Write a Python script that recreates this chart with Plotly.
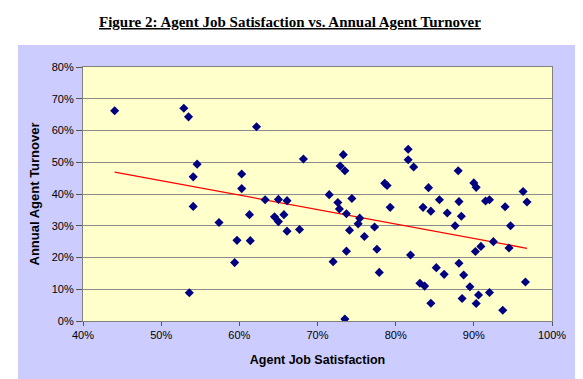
import plotly.graph_objects as go

# Agent job satisfaction (fraction) vs annual agent turnover (fraction)
satisfaction = [
    0.4405, 0.529, 0.535, 0.546, 0.541, 0.603, 0.603, 0.541, 0.574, 0.597,
    0.594, 0.536, 0.622, 0.682, 0.733, 0.729, 0.735, 0.786, 0.789, 0.816,
    0.816, 0.823, 0.715, 0.633, 0.650, 0.661, 0.744, 0.726, 0.728, 0.613,
    0.645, 0.657, 0.650, 0.737, 0.793, 0.754, 0.752, 0.773, 0.661, 0.677,
    0.741, 0.760, 0.614, 0.737, 0.776, 0.819, 0.720, 0.779, 0.735, 0.880,
    0.842, 0.900, 0.903, 0.963, 0.856, 0.881, 0.915, 0.920, 0.968, 0.835,
    0.845, 0.940, 0.866, 0.884, 0.876, 0.947, 0.925, 0.909, 0.945, 0.902,
    0.881, 0.852, 0.862, 0.887, 0.831, 0.837, 0.895, 0.966, 0.920, 0.906,
    0.885, 0.845, 0.903, 0.937,
]
turnover = [
    0.662, 0.670, 0.643, 0.494, 0.454, 0.463, 0.417, 0.361, 0.310, 0.254,
    0.184, 0.089, 0.612, 0.510, 0.524, 0.488, 0.473, 0.434, 0.427, 0.541,
    0.508, 0.485, 0.398, 0.382, 0.383, 0.379, 0.386, 0.373, 0.353, 0.335,
    0.328, 0.335, 0.313, 0.338, 0.358, 0.324, 0.306, 0.296, 0.283, 0.288,
    0.286, 0.266, 0.253, 0.220, 0.226, 0.208, 0.187, 0.153, 0.006, 0.473,
    0.420, 0.435, 0.421, 0.408, 0.382, 0.376, 0.378, 0.382, 0.375, 0.358,
    0.346, 0.360, 0.340, 0.330, 0.300, 0.300, 0.250, 0.235, 0.230, 0.219,
    0.182, 0.168, 0.147, 0.145, 0.119, 0.110, 0.108, 0.123, 0.090, 0.082,
    0.071, 0.056, 0.055, 0.034,
]

# Linear trend line endpoints
trend_x = [0.4405, 0.968]
trend_y = [0.469, 0.229]

title_text = "Figure 2: Agent Job Satisfaction vs. Annual Agent Turnover"
x_title = "Agent Job Satisfaction"
y_title = "Annual Agent Turnover"

fig = go.Figure()
fig.add_trace(go.Scatter(
    x=trend_x, y=trend_y, mode="lines",
    line=dict(color="#FF0000", width=1.3), hoverinfo="skip",
))
fig.add_trace(go.Scatter(
    x=satisfaction, y=turnover, mode="markers",
    marker=dict(symbol="diamond", size=7, color="#000080",
                line=dict(width=0)),
))

W, H = 583, 379
L, R, T, B = 75, 544, 59, 313
pw, ph = R - L, B - T


def px_x(x):
    return (x - L) / pw


def px_y(y):
    return (B - y) / ph


# white page margins around the purple chart area (paper is purple)
white = dict(fillcolor="#FFFFFF", line=dict(width=0), layer="below")
fig.add_shape(type="rect", xref="paper", yref="paper",
              x0=px_x(-5), x1=px_x(W + 5), y0=px_y(37), y1=px_y(-5), **white)
fig.add_shape(type="rect", xref="paper", yref="paper",
              x0=px_x(-5), x1=px_x(W + 5), y0=px_y(H + 5), y1=px_y(373), **white)
fig.add_shape(type="rect", xref="paper", yref="paper",
              x0=px_x(-5), x1=px_x(10), y0=px_y(H + 5), y1=px_y(-5), **white)
fig.add_shape(type="rect", xref="paper", yref="paper",
              x0=px_x(576), x1=px_x(W + 5), y0=px_y(H + 5), y1=px_y(-5), **white)

fig.add_annotation(text="<b><u>" + title_text + "</u></b>", xref="paper", yref="paper",
                   x=px_x(282), y=px_y(14), showarrow=False,
                   font=dict(family="Liberation Serif", size=15, color="#000000"),
                   xanchor="center", yanchor="middle")

fig.update_layout(
    width=W, height=H,
    margin=dict(l=L, r=W - R, t=T, b=H - B, pad=0),
    paper_bgcolor="#CCCCFF",
    plot_bgcolor="#FFFFCC",
    showlegend=False,
    font=dict(family="Liberation Sans", size=11, color="#000000"),
)
fig.update_xaxes(
    range=[0.4, 1.0], dtick=0.1, tick0=0.4, tickformat=".0%",
    showgrid=False, zeroline=False,
    showline=True, linecolor="#808080", linewidth=1.2, mirror=True,
    ticks="outside", ticklen=4, tickcolor="#555555",
    title=dict(text="<b>" + x_title + "</b>", font=dict(size=12.5), standoff=14),
)
fig.update_yaxes(
    range=[0, 0.8], dtick=0.1, tick0=0, tickformat=".0%",
    showgrid=True, gridcolor="#8C8C8C", gridwidth=1, zeroline=False,
    showline=True, linecolor="#808080", linewidth=1.2, mirror=True,
    ticks="outside", ticklen=6, tickcolor="#555555",
    title=dict(text="<b>" + y_title + "</b>", font=dict(size=13), standoff=9),
)

fig.write_html("out.html")
